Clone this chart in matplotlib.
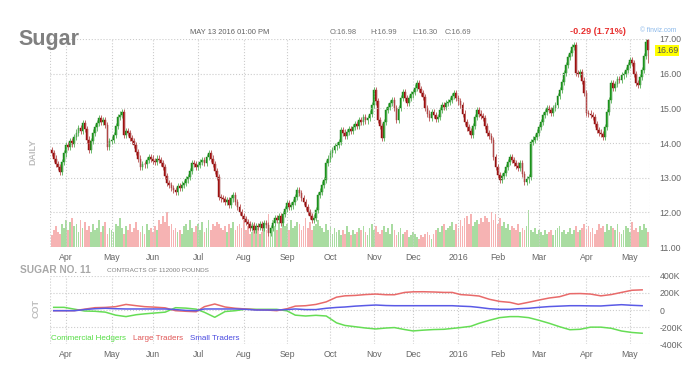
import numpy as np
import pandas as pd
import matplotlib.pyplot as plt
from pandas.tseries.holiday import USFederalHolidayCalendar

plt.rcParams['font.family'] = ['Liberation Sans', 'DejaVu Sans']

# daily closes, Sugar No. 11 front month
closes = [
    13.72, 13.55, 13.40, 13.30, 13.17, 13.45, 13.70, 13.95, 13.88, 14.05,
    13.98, 14.18, 14.30, 14.44, 14.35, 14.58, 14.40, 14.10, 13.80, 14.05,
    14.30, 14.45, 14.58, 14.72, 14.60, 14.65, 14.52, 13.89, 14.05, 14.10,
    14.23, 14.50, 14.75, 14.82, 14.90, 14.23, 14.35, 14.28, 14.15, 14.05,
    13.95, 13.75, 13.55, 13.31, 13.40, 13.38, 13.52, 13.60, 13.55, 13.48,
    13.46, 13.55, 13.50, 13.43, 13.30, 13.05, 12.85, 12.78, 12.70, 12.65,
    12.60, 12.75, 12.70, 12.80, 12.85, 12.95, 13.02, 13.20, 13.43, 13.40,
    13.30, 13.37, 13.45, 13.50, 13.42, 13.60, 13.71, 13.55, 13.40, 13.20,
    13.02, 12.45, 12.40, 12.38, 12.30, 12.35, 12.22, 12.40, 12.50, 12.30,
    12.15, 12.00, 11.90, 11.80, 11.72, 11.65, 11.55, 11.62, 11.50, 11.60,
    11.58, 11.65, 11.55, 11.70, 11.64, 11.41, 11.55, 11.70, 11.84, 11.78,
    11.90, 11.70, 11.95, 12.10, 12.27, 12.15, 12.20, 12.30, 12.45, 12.65,
    12.55, 12.42, 12.30, 12.15, 12.00, 11.90, 11.78, 11.85, 12.07, 12.50,
    12.60, 12.80, 12.94, 13.43, 13.55, 13.70, 13.80, 13.90, 13.95, 14.03,
    14.38, 14.30, 14.20, 14.32, 14.40, 14.35, 14.46, 14.55, 14.50, 14.67,
    14.60, 14.75, 14.65, 14.72, 14.85, 15.10, 15.53, 15.20, 14.67, 14.50,
    14.15, 14.60, 14.95, 15.05, 15.15, 15.24, 15.00, 14.67, 15.00, 15.30,
    15.47, 15.30, 15.15, 15.30, 15.40, 15.47, 15.60, 15.73, 15.55, 15.45,
    15.33, 15.00, 14.85, 14.72, 14.90, 14.80, 14.70, 14.75, 14.95, 15.10,
    15.05, 15.15, 15.18, 15.25, 15.35, 15.44, 15.30, 15.20, 15.10, 14.85,
    14.61, 14.45, 14.35, 14.23, 14.50, 14.75, 14.95, 14.85, 14.78, 14.72,
    14.50, 14.29, 14.20, 14.09, 13.60, 13.30, 13.08, 12.94, 13.05, 13.14,
    13.30, 13.45, 13.60, 13.50, 13.43, 13.35, 13.28, 13.43, 13.10, 12.88,
    12.95, 13.02, 14.03, 14.10, 14.18, 14.30, 14.46, 14.60, 14.81, 14.90,
    15.00, 14.95, 14.87, 15.00, 15.10, 15.35, 15.53, 15.75, 16.02, 16.25,
    16.48, 16.60, 16.77, 16.83, 16.02, 16.00, 16.05, 15.80, 15.44, 14.87,
    14.85, 14.80, 14.75, 14.55, 14.38, 14.30, 14.25, 14.18, 14.46, 14.90,
    15.24, 15.73, 15.60, 15.70, 15.85, 15.82, 15.95, 16.00, 16.11, 16.25,
    16.40, 16.30, 16.00, 15.73, 15.67, 15.90, 16.11, 16.50, 16.91, 16.69,
]
first_open = 13.80
last_ohlc = [16.98, 16.99, 16.30, 16.69]

# daily volume, thousands of contracts
volumes = [
    30, 45, 55, 40, 35, 60, 50, 70, 45, 65,
    75, 55, 60, 40, 70, 50, 65, 45, 55, 40,
    60, 45, 50, 70, 40, 55, 65, 35, 50, 45,
    40, 60, 55, 75, 50, 35, 55, 45, 60, 40,
    50, 65, 45, 40, 55, 35, 60, 45, 50, 40,
    55, 45, 70, 60, 80, 65, 90, 55, 60, 45,
    50, 40, 45, 35, 55, 60, 45, 70, 50, 40,
    55, 60, 45, 65, 40, 50, 70, 45, 60, 55,
    65, 60, 50, 45, 55, 40, 60, 50, 65, 45,
    55, 60, 50, 70, 45, 55, 35, 40, 60, 45,
    50, 35, 40, 55, 45, 85, 50, 70, 55, 45,
    65, 50, 75, 55, 60, 45, 70, 50, 55, 65,
    60, 45, 55, 75, 50, 65, 45, 55, 60, 70,
    55, 50, 40, 60, 45, 55, 35, 50, 40, 45,
    30, 45, 35, 55, 40, 30, 45, 35, 40, 50,
    45, 55, 40, 30, 50, 60, 45, 55, 40, 35,
    45, 55, 40, 50, 35, 60, 45, 30, 40, 50,
    35, 40, 45, 25, 30, 40, 35, 25, 20, 30,
    25, 35, 40, 30, 20, 35, 45, 50, 40, 55,
    60, 45, 50, 55, 65, 45, 60, 50, 70, 55,
    75, 80, 60, 85, 55, 65, 70, 60, 75, 65,
    80, 75, 65, 90, 70, 85, 60, 75, 55, 65,
    50, 60, 45, 55, 50, 45, 60, 40, 50, 45,
    55, 95, 45, 40, 50, 35, 45, 40, 30, 45,
    35, 40, 45, 30, 45, 50, 55, 40, 45, 35,
    40, 50, 35, 45, 55, 40, 45, 50, 60, 45,
    55, 40, 50, 35, 45, 60, 50, 55, 40, 60,
    45, 55, 50, 45, 60, 40, 35, 45, 55, 50,
    40, 65, 45, 50, 40, 55, 45, 60, 50, 40,
]

# weekly COT net positions, thousands of contracts
cot_commercial = [31, 31, 10, -12, -15, -25, -60, -77, -55, -45,
                  -35, -25, 27, 22, 10, -27, -85, -18, -8, 10,
                  8, 8, 8, -10, -60, -70, -62, -70, -150, -180,
                  -195, -210, -221, -210, -205, -228, -244, -235, -228, -225,
                  -215, -205, -190, -155, -120, -89, -77, -77, -89, -120,
                  -155, -195, -230, -225, -200, -200, -213, -245, -262, -271]
cot_large = [-8, -8, -8, 10, 27, 30, 39, 65, 50, 39,
             33, 25, -8, -15, -20, 39, 70, 35, 20, 12,
             3, 0, -8, 15, 45, 50, 65, 95, 150, 165,
             170, 180, 186, 178, 178, 205, 212, 213, 210, 205,
             205, 180, 172, 163, 125, 100, 89, 66, 90, 116,
             140, 155, 190, 192, 186, 165, 180, 205, 230, 235]
cot_small = [-8, -8, -8, 5, 15, 20, 15, 12, 12, 12,
             12, 12, 5, -5, -8, 12, 12, 12, 12, 8,
             0, 0, 0, 5, 12, 5, 5, 20, 30, 35,
             45, 52, 58, 52, 50, 50, 50, 50, 50, 50,
             50, 45, 40, 30, 15, 8, 8, 15, 20, 31,
             40, 45, 50, 50, 48, 47, 55, 62, 55, 50]

month_labels = ['Apr', 'May', 'Jun', 'Jul', 'Aug', 'Sep', 'Oct', 'Nov',
                'Dec', '2016', 'Feb', 'Mar', 'Apr', 'May']

# trading calendar
bday = pd.offsets.CustomBusinessDay(calendar=USFederalHolidayCalendar())
dates = pd.date_range(end='2016-05-13', periods=len(closes), freq=bday)
idx = np.arange(len(closes))
month_pos = [i for i in range(1, len(dates)) if dates[i].month != dates[i - 1].month]

cot_dates = pd.date_range(end='2016-05-10', periods=len(cot_large), freq='W-TUE')
cot_x = dates.searchsorted(cot_dates)

c = np.array(closes)
o = np.r_[first_open, c[:-1]]
o[-1] = last_ohlc[0]
wick = 0.09
h = np.maximum(o, c) + wick
l = np.minimum(o, c) - wick
h[-1] = last_ohlc[1]
l[-1] = last_ohlc[2]
up = c >= o

W, H = 692, 382
fig = plt.figure(figsize=(W / 100, H / 100), dpi=100)
grid_kw = dict(color='#cccccc', linestyle=':', linewidth=0.8)

# price panel
ax = fig.add_axes([50 / W, 1 - 247 / H, 600 / W, 208 / H])
vax = ax.twinx()
vax.bar(idx, volumes, width=0.85, color=np.where(up, '#a9dca1', '#f6b3b3'), linewidth=0)
vax.set_ylim(0, 540)
vax.axis('off')
ax.set_zorder(vax.get_zorder() + 1)
ax.patch.set_visible(False)

ax.vlines(idx[up], l[up], h[up], color='#55b055', linewidth=0.6)
ax.vlines(idx[~up], l[~up], h[~up], color='#b85050', linewidth=0.6)
ax.bar(idx[up], (c - o)[up], bottom=o[up], width=0.85, color='#1f9a1f',
       edgecolor='#137013', linewidth=0.3)
ax.bar(idx[~up], (o - c)[~up], bottom=c[~up], width=0.85, color='#a51212',
       edgecolor='#7a0a0a', linewidth=0.3)

xlim = (-0.8, len(closes) - 0.2)
ax.set_xlim(xlim)
ax.set_ylim(11, 17)
ax.set_yticks(np.arange(11, 18))
ax.set_yticklabels(['%.2f' % v for v in np.arange(11, 18)])
ax.yaxis.tick_right()
ax.set_xticks(month_pos)
ax.set_xticklabels(month_labels)
ax.tick_params(length=0, labelsize=6.3, colors='#666666', pad=4)
ax.tick_params(axis='y', pad=7)
ax.grid(True, **grid_kw)
for s in ax.spines.values():
    s.set_visible(False)
ax.axvline(xlim[0], **grid_kw)
ax.axvline(xlim[1], **grid_kw)

# COT panel
cax = fig.add_axes([50 / W, 1 - 344.3 / H, 600 / W, 68.6 / H])
cax.plot(cot_x, cot_commercial, color='#66dd55', linewidth=1.1)
cax.plot(cot_x, cot_large, color='#e86a6a', linewidth=1.1)
cax.plot(cot_x, cot_small, color='#5a5ae6', linewidth=1.1)
cax.set_xlim(xlim)
cax.set_ylim(-400, 400)
cax.set_yticks([-400, -200, 0, 200, 400])
cax.set_yticklabels(['-400K', '-200K', '0', '200K', '400K'])
cax.yaxis.tick_right()
cax.set_xticks(month_pos)
cax.set_xticklabels(month_labels)
cax.tick_params(length=0, labelsize=6.3, colors='#666666', pad=4)
cax.tick_params(axis='y', pad=7)
cax.grid(True, **grid_kw)
for s in cax.spines.values():
    s.set_visible(False)
cax.axvline(xlim[0], **grid_kw)
cax.axvline(xlim[1], **grid_kw)

# texts
fig.text(18 / W, 1 - 40 / H, 'Sugar', fontsize=15.5, fontweight='bold', color='#808080', va='center')
fig.text(33 / W, 1 - 152 / H, 'DAILY', fontsize=6.5, fontweight='bold', color='#bdbdbd',
         rotation=90, ha='center', va='center')
fig.text(190 / W, 1 - 32 / H, 'MAY 13 2016 01:00 PM', fontsize=5.4, color='#606060', va='center')
fig.text(330 / W, 1 - 32 / H, 'O:16.98', fontsize=5.4, color='#707070', va='center')
fig.text(370 / W, 1 - 32 / H, 'H:16.99', fontsize=5.4, color='#707070', va='center')
fig.text(412 / W, 1 - 32 / H, 'L:16.30', fontsize=5.4, color='#707070', va='center')
fig.text(445 / W, 1 - 32 / H, 'C:16.69', fontsize=5.4, color='#707070', va='center')
fig.text(570 / W, 1 - 32 / H, '-0.29 (1.71%)', fontsize=6.6, fontweight='bold', color='#e8302f', va='center')
fig.text(640 / W, 1 - 30 / H, '© finviz.com', fontsize=4.8, color='#8ab8ea', va='center')
fig.text(656 / W, 1 - 50.5 / H, '16.69', fontsize=6.3, color='#555555', va='center',
         bbox=dict(facecolor='#ffff00', edgecolor='none', pad=0.8))

fig.text(20 / W, 1 - 270 / H, 'SUGAR NO. 11', fontsize=7.3, fontweight='bold', color='#a8a8a8', va='center')
fig.text(107 / W, 1 - 270 / H, 'CONTRACTS OF 112000 POUNDS', fontsize=4.6, color='#808080', va='center')
fig.text(36 / W, 1 - 309 / H, 'COT', fontsize=6.5, fontweight='bold', color='#bdbdbd',
         rotation=90, ha='center', va='center')
fig.text(51 / W, 1 - 339 / H, 'Commercial Hedgers', fontsize=5.8, color='#55dd44', va='center')
fig.text(133 / W, 1 - 339 / H, 'Large Traders', fontsize=5.8, color='#e05555', va='center')
fig.text(190 / W, 1 - 339 / H, 'Small Traders', fontsize=5.8, color='#4a4ae0', va='center')

fig.savefig('out.png', dpi=100, facecolor='white')
